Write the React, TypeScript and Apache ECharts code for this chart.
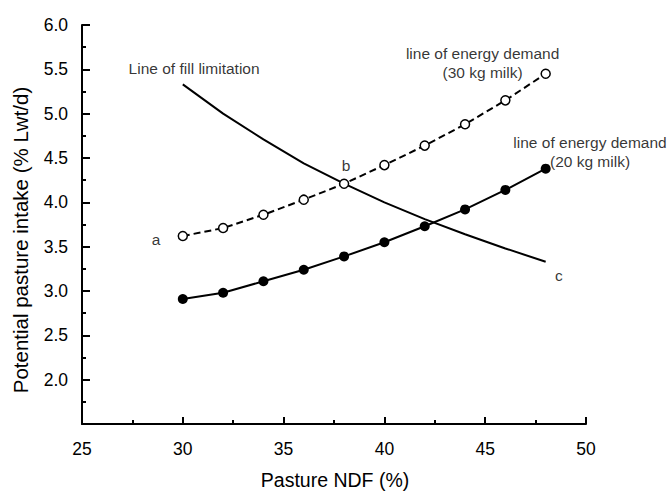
import React, { useEffect, useRef } from 'react';
import * as echarts from 'echarts';

const ndf = [30, 32, 34, 36, 38, 40, 42, 44, 46, 48];
const demand30 = [3.62, 3.71, 3.86, 4.03, 4.21, 4.42, 4.64, 4.88, 5.15, 5.45];
const demand20 = [2.91, 2.98, 3.11, 3.24, 3.39, 3.55, 3.73, 3.92, 4.14, 4.38];
const fillLimit = [5.33, 5.0, 4.71, 4.44, 4.21, 4.0, 3.81, 3.64, 3.48, 3.33];

const annotationTexts = [
  'Line of fill limitation',
  'line of energy demand\n(30 kg milk)',
  'line of energy demand\n(20 kg milk)',
  'a',
  'b',
  'c',
];
const annotationX = [30.56, 44.87, 50.2, 28.67, 38.1, 48.65];
const annotationY = [5.505, 5.573, 4.571, 3.582, 4.417, 3.177];

const xTitle = 'Pasture NDF (%)';
const yTitle = 'Potential pasture intake (% Lwt/d)';

const FONT = '"Liberation Sans", Arial, sans-serif';

export default function App() {
  const ref = useRef<HTMLDivElement>(null);
  useEffect(() => {
    if (!ref.current) return;
    const chart = echarts.init(ref.current, null, { renderer: 'svg' });
    const axisCommon = {
      axisLine: { show: true, onZero: false, lineStyle: { color: '#000', width: 2 } },
      splitLine: { show: false },
    };
    chart.setOption({
      animation: false,
      backgroundColor: '#fff',
      textStyle: { fontFamily: FONT, color: '#000' },
      grid: { left: 82, right: 83, top: 25, bottom: 68, containLabel: false, outerBoundsMode: 'none' },
      xAxis: {
        type: 'value',
        min: 25,
        max: 50,
        interval: 5,
        ...axisCommon,
        axisTick: { show: true, inside: true, length: 7, lineStyle: { color: '#000', width: 2 } },
        minorTick: { show: true, splitNumber: 2, length: 4, lineStyle: { color: '#000', width: 2 } },
        axisLabel: { color: '#000', fontSize: 17.5, fontFamily: FONT, margin: 16 },
      },
      yAxis: {
        type: 'value',
        min: 1.5,
        max: 6,
        interval: 0.5,
        ...axisCommon,
        axisTick: { show: true, inside: true, length: 8, lineStyle: { color: '#000', width: 2 } },
        minorTick: { show: true, splitNumber: 2, length: 4, lineStyle: { color: '#000', width: 2 } },
        axisLabel: {
          color: '#000',
          fontSize: 17.5,
          fontFamily: FONT,
          margin: 14,
          formatter: (v: number) => (Math.abs(v - 1.5) < 1e-9 ? '' : v.toFixed(1)),
        },
      },
      graphic: [
        {
          type: 'text',
          x: 335,
          y: 480,
          style: { text: xTitle, fontSize: 19.5, fontFamily: FONT, fill: '#000', align: 'center', verticalAlign: 'middle' },
        },
        {
          type: 'text',
          x: 20,
          y: 240,
          rotation: Math.PI / 2,
          style: { text: yTitle, fontSize: 20.5, fontFamily: FONT, fill: '#000', align: 'center', verticalAlign: 'middle' },
        },
      ],
      series: [
        {
          type: 'line',
          data: ndf.map((x, i) => [x, fillLimit[i]]),
          symbol: 'none',
          lineStyle: { color: '#000', width: 2 },
          z: 1,
          silent: true,
        },
        {
          type: 'line',
          data: ndf.map((x, i) => [x, demand20[i]]),
          symbol: 'circle',
          symbolSize: 10,
          itemStyle: { color: '#000' },
          lineStyle: { color: '#000', width: 2 },
          z: 2,
          silent: true,
        },
        {
          type: 'line',
          data: ndf.map((x, i) => [x, demand30[i]]),
          symbol: 'circle',
          symbolSize: 9,
          itemStyle: { color: '#fff', borderColor: '#000', borderWidth: 1.5 },
          lineStyle: { color: '#000', width: 2, type: [7, 4] },
          z: 3,
          silent: true,
        },
        {
          type: 'scatter',
          clip: false,
          symbolSize: 0,
          silent: true,
          z: 4,
          data: annotationTexts.map((t, i) => ({ name: t, value: [annotationX[i], annotationY[i]] })),
          label: {
            show: true,
            position: 'inside',
            formatter: (p: any) => p.name,
            color: '#000',
            fontSize: 15.5,
            fontFamily: FONT,
            align: 'center',
            verticalAlign: 'middle',
            lineHeight: 19,
          },
        },
      ],
    });
    return () => chart.dispose();
  }, []);
  return (
    <div
      ref={ref}
      style={{ position: 'fixed', left: 0, top: 0, width: 669, height: 492, background: '#fff' }}
    />
  );
}
